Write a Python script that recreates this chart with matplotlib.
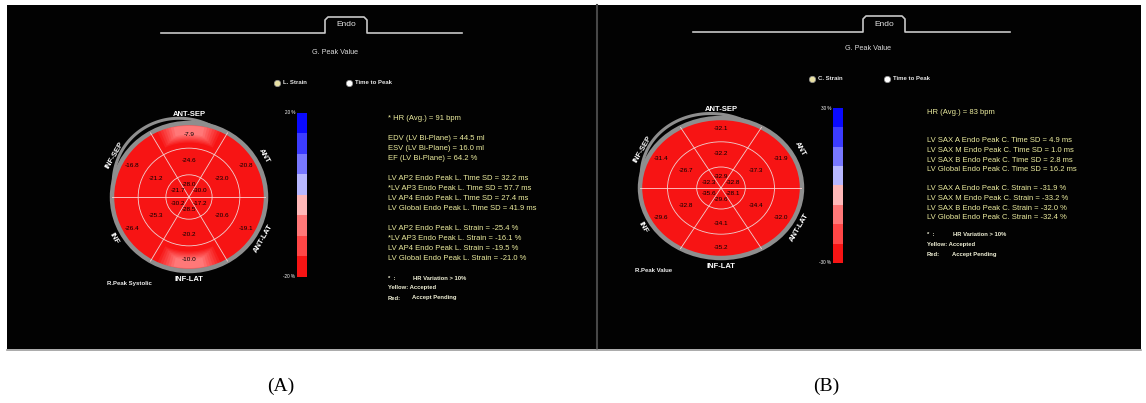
import numpy as np
import matplotlib.pyplot as plt
from matplotlib.patches import Wedge, Rectangle, Circle
from matplotlib.colors import ListedColormap, BoundaryNorm, to_rgb

plt.rcParams['font.family'] = ['Liberation Sans', 'DejaVu Sans']

W, H = 1146, 403

# wall order: top segment first, then clockwise
walls = ['ANT-SEP', 'ANT', 'ANT-LAT', 'INF-LAT', 'INF', 'INF-SEP']
wall_angles = [90, 30, -30, -90, -150, 150]

a_basal = [-7.9, -20.8, -19.1, -10.0, -26.4, -16.8]
a_mid = [-24.6, -23.0, -20.6, -20.2, -25.3, -21.2]
a_apical = [-28.0, -30.0, -17.2, -28.5, -30.2, -21.7]

b_basal = [-32.1, -31.9, -32.0, -35.2, -29.6, -31.4]
b_mid = [-32.2, -37.3, -34.4, -34.1, -32.8, -26.7]
b_apical = [-32.9, -32.8, -28.1, -29.6, -35.6, -32.3]

a_range = 20
b_range = 30

# colour scale, most negative first
scale_colors = ['#f71414', '#ff4646', '#ff7878', '#ffb8b8',
                '#b8b8ff', '#7878ff', '#3c3cff', '#0a0aff']

a_info = ['* HR (Avg.) = 91 bpm', '',
          'EDV (LV Bi-Plane) = 44.5 ml',
          'ESV (LV Bi-Plane) = 16.0 ml',
          'EF (LV Bi-Plane) = 64.2 %', '',
          'LV AP2 Endo Peak L. Time SD = 32.2 ms',
          '*LV AP3 Endo Peak L. Time SD = 57.7 ms',
          'LV AP4 Endo Peak L. Time SD = 27.4 ms',
          'LV Global Endo Peak L. Time SD = 41.9 ms', '',
          'LV AP2 Endo Peak L. Strain = -25.4 %',
          '*LV AP3 Endo Peak L. Strain = -16.1 %',
          'LV AP4 Endo Peak L. Strain = -19.5 %',
          'LV Global Endo Peak L. Strain = -21.0 %']

b_info = ['HR (Avg.) = 83 bpm', '', '',
          'LV SAX A Endo Peak C. Time SD = 4.9 ms',
          'LV SAX M Endo Peak C. Time SD = 1.0 ms',
          'LV SAX B Endo Peak C. Time SD = 2.8 ms',
          'LV Global Endo Peak C. Time SD = 16.2 ms', '',
          'LV SAX A Endo Peak C. Strain = -31.9 %',
          'LV SAX M Endo Peak C. Strain = -33.2 %',
          'LV SAX B Endo Peak C. Strain = -32.0 %',
          'LV Global Endo Peak C. Strain = -32.4 %']

footnotes = [('*  :', 'HR Variation > 10%'), ('Yellow: Accepted', ''), ('Red:', 'Accept Pending')]

fig = plt.figure(figsize=(W / 100, H / 100), dpi=100)
fig.patch.set_facecolor('white')
bg = fig.add_axes([0, 0, 1, 1])
bg.set_xlim(0, W)
bg.set_ylim(H, 0)
bg.axis('off')

# black screen captures
bg.add_patch(Rectangle((7, 5), 589, 344, fc='#020202', ec='none'))
bg.add_patch(Rectangle((597, 5), 544, 344, fc='#020202', ec='none'))
bg.plot([596.5, 596.5], [5, 349], color='#474747', lw=1.5)
bg.plot([7, 1141], [349.5, 349.5], color='#9c9c9c', lw=1.2)


def tab(x0, x1, tx0, tx1, y, label):
    xs = [x0, tx0, tx0, tx0 + 3, tx1 - 3, tx1, tx1, x1]
    ys = [y, y, y - 13, y - 16, y - 16, y - 13, y, y]
    bg.plot(xs, ys, color='#c8c8c8', lw=1.2)
    bg.text((tx0 + tx1) / 2, y - 8, label, color='#e2e2e2', fontsize=6,
            ha='center', va='center')


def radio(x, y, label, dot):
    bg.plot(x, y, 'o', ms=4.6, mfc=dot, mec='#909090', mew=0.5)
    bg.text(x + 6, y, label, color='#e6e6e6', fontsize=4.3, weight='bold',
            ha='left', va='center')


def bullseye(cx, cy, rx, ry, basal, mid, apical, vmax, corner_text):
    ax = fig.add_axes([(cx - rx) / W, 1 - (cy + ry) / H, 2 * rx / W, 2 * ry / H])
    ax.set_xlim(-1, 1)
    ax.set_ylim(-1, 1)
    ax.axis('off')
    cmap = ListedColormap(scale_colors)
    norm = BoundaryNorm(np.linspace(-vmax, vmax, 9), cmap.N, clip=True)
    base = np.array(to_rgb(scale_colors[0]))

    rings = [(0.0, 0.3, 0.17, apical), (0.3, 0.66, 0.5, mid), (0.66, 1.0, 0.85, basal)]
    for r0, r1, rl, vals in rings:
        for ang, v in zip(wall_angles, vals):
            ax.add_patch(Wedge((0, 0), r1, ang - 30, ang + 30, width=r1 - r0,
                               fc=base, ec='none'))
            own = np.array(cmap(norm(v))[:3])
            if r0 > 0:
                # soft patch fading from the ring colour to the segment's own colour
                steps = 7
                for k in range(steps):
                    f = (k + 1) / steps
                    half = 27 - 15 * f
                    width = (r1 - r0) * (0.8 - 0.45 * f)
                    ax.add_patch(Wedge((0, 0), r1 - 0.01 - 0.03 * f, ang - half, ang + half,
                                       width=width, fc=base + (own - base) * f, ec='none'))
            t = np.deg2rad(ang)
            ax.text(rl * np.cos(t), rl * np.sin(t), f'{v:.1f}', fontsize=4.6,
                    color='black', ha='center', va='center')

    for ang in range(0, 360, 60):
        t = np.deg2rad(ang)
        ax.plot([0, np.cos(t)], [0, np.sin(t)], color='#ffd2d2', lw=0.6)
    for r in (0.3, 0.66):
        ax.add_patch(Circle((0, 0), r, fill=False, ec='#ffd2d2', lw=0.6))

    ax.add_patch(Circle((0, 0), 1.0, fill=False, ec='#8e8e8e', lw=3.2, clip_on=False))
    th = np.linspace(72, 170, 80)
    rr = 1.0 + 0.1 * np.sin(np.pi * (th - 72) / 98)
    ax.plot(rr * np.cos(np.deg2rad(th)), rr * np.sin(np.deg2rad(th)),
            color='#8e8e8e', lw=2.2, clip_on=False, solid_capstyle='round')

    for name, ang in zip(walls, wall_angles):
        t = np.deg2rad(ang)
        if ang in (90, -90):
            rot = 0
        elif ang > 0:
            rot = ang - 90
        else:
            rot = ang + 90
        ax.text(1.12 * np.cos(t), 1.12 * np.sin(t), name, fontsize=5.5,
                weight='bold', color='white', ha='center', va='center',
                rotation=rot, clip_on=False)
    bg.text(cx - rx - 5, cy + ry + 12, corner_text, fontsize=4.3, weight='bold',
            color='#eeeeee', ha='left', va='center')
    return cmap, norm


def colorbar(x, y0, y1, cmap, vmax):
    ax = fig.add_axes([x / W, 1 - y1 / H, 10 / W, (y1 - y0) / H])
    levels = np.linspace(-vmax, vmax, 9)
    centers = (levels[:-1] + levels[1:]) / 2
    ax.imshow(centers[::-1].reshape(-1, 1), cmap=cmap,
              norm=BoundaryNorm(levels, cmap.N), aspect='auto')
    ax.axis('off')
    bg.text(x - 2, y0, f'{vmax} %', fontsize=3.3, color='white', ha='right', va='center')
    bg.text(x - 2, y1, f'-{vmax} %', fontsize=3.3, color='white', ha='right', va='center')


def info_block(x, y, step, lines, foot_y, foot_step, offset):
    for i, s in enumerate(lines):
        if s:
            bg.text(x, y + i * step, s, fontsize=5.5, color='#ecec9e',
                    ha='left', va='center')
    for i, (left, right) in enumerate(footnotes):
        yy = foot_y + i * foot_step
        bg.text(x, yy, left, fontsize=4.2, weight='bold', color='#f0f0d6',
                ha='left', va='center')
        if right:
            dx = offset if i == 0 else offset - 1
            bg.text(x + dx, yy, right, fontsize=4.2, weight='bold',
                    color='#f0f0d6', ha='left', va='center')


# panel A: longitudinal strain
tab(161, 462, 325, 367, 33, 'Endo')
bg.text(335, 52, 'G. Peak Value', fontsize=5.2, color='#dadada', ha='center', va='center')
radio(277, 83, 'L. Strain', '#e8e0a4')
radio(349, 83, 'Time to Peak', 'white')
cm, nm = bullseye(189, 197, 77, 74, a_basal, a_mid, a_apical, a_range, 'R.Peak Systolic')
colorbar(297, 113, 277, cm, a_range)
info_block(388, 118, 10, a_info, 278, 10, 25)

# panel B: circumferential strain
tab(693, 1010, 863, 905, 32, 'Endo')
bg.text(868, 49, 'G. Peak Value', fontsize=5.2, color='#dadada', ha='center', va='center')
radio(812, 79, 'C. Strain', '#e8e0a4')
radio(887, 79, 'Time to Peak', 'white')
cm, nm = bullseye(721, 188, 81, 70, b_basal, b_mid, b_apical, b_range, 'R.Peak Value')
colorbar(833, 108, 263, cm, b_range)
info_block(927, 112, 9.6, b_info, 235, 9.6, 26)

bg.text(281, 386, '(A)', fontsize=14, family=['Liberation Serif', 'DejaVu Serif'],
        ha='center', va='center')
bg.text(826, 386, '(B)', fontsize=14, family=['Liberation Serif', 'DejaVu Serif'],
        ha='center', va='center')

fig.savefig('out.png', dpi=100, facecolor='white')
